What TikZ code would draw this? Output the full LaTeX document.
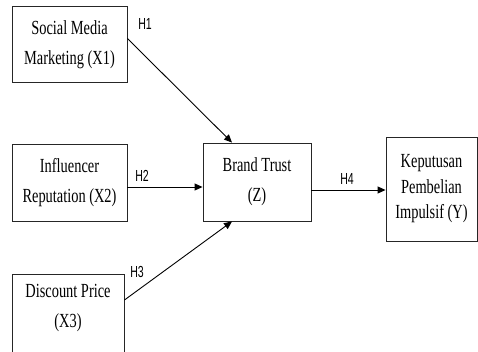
\documentclass[tikz,border=0pt]{standalone}
\usepackage{fontspec}
\newfontfamily\boxfont{Liberation Serif}[FakeStretch=0.72]
\newfontfamily\hfont{Liberation Sans}[FakeStretch=0.66]
\usetikzlibrary{arrows.meta,calc}
\tikzset{
  box/.style={draw=black!85, line width=0.9pt, inner sep=0pt, align=center,
    font=\boxfont\fontsize{20}{30}\selectfont},
  conn/.style={line width=0.9pt, -{Triangle[length=8pt,width=7pt]}},
  hyp/.style={font=\hfont\fontsize{16}{18}\selectfont, inner sep=0pt}
}
\begin{document}
\begin{tikzpicture}[x=1pt,y=-1pt]
\useasboundingbox (0,0) rectangle (478,351);
\clip (0,0) rectangle (478,351);
\node[box, minimum width=115pt, minimum height=76pt] (X1) at (69.5,44.5) {Social Media\\Marketing (X1)};
\node[box, minimum width=115pt, minimum height=77pt] (X2) at (69.5,182.5) {Influencer\\Reputation (X2)};
\node[box, minimum width=112pt, anchor=north, inner ysep=10pt, text depth=60pt] (X3) at (68,274) {Discount Price\\(X3)};
\node[box, minimum width=108pt, minimum height=78pt] (Z) at (257,182) {Brand Trust\\(Z)};
\node[box, minimum width=91pt, minimum height=104pt, font=\boxfont\fontsize{20}{25.5}\selectfont] (Y) at (431.5,189) {Keputusan\\Pembelian\\Impulsif (Y)};
\draw[conn] ([yshift=6pt]X1.east) -- ([xshift=-25pt]Z.north);
\draw[conn] ([yshift=-4.5pt]X2.east) -- ([yshift=-4.5pt]X2.east -| Z.west);
\draw[conn] ([yshift=-26pt]X3.north east) -- ([xshift=-25pt]Z.south);
\draw[conn] ([yshift=-8pt]Z.east) -- ([yshift=-8pt]Z.east -| Y.west);
\node[hyp] (h1) at (145,24) {H1};
\node[hyp] (h2) at (142,176) {H2};
\node[hyp] (h3) at (137,272) {H3};
\node[hyp] (h4) at (347,179) {H4};
\end{tikzpicture}
\end{document}
